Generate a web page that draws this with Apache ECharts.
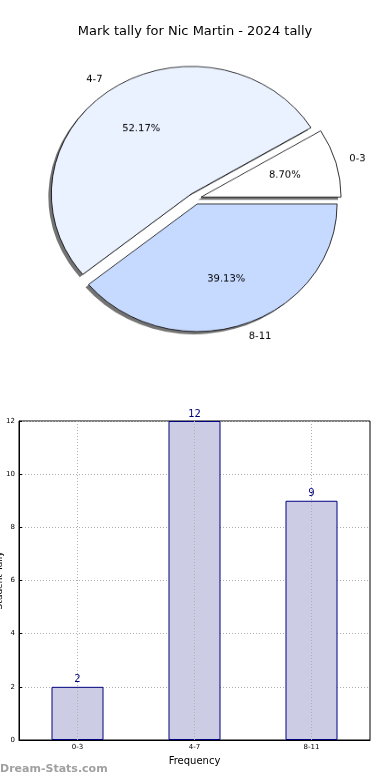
<!DOCTYPE html>
<html><head><meta charset="utf-8">
<script src="https://cdn.jsdelivr.net/npm/echarts@6/dist/echarts.min.js"></script>
<style>
html,body{margin:0;padding:0;background:#fff;}
#main{position:absolute;left:0;top:0;width:390px;height:780px;}
#pie{position:absolute;left:0;top:0;width:390px;height:420px;transform:scaleY(0.911);transform-origin:0 0;}
</style></head>
<body>
<div id="main"></div>
<div id="pie"></div>
<script>
const titleText = 'Mark tally for Nic Martin - 2024 tally';
const categories = ['0-3', '4-7', '8-11'];
const counts = [2, 12, 9];
const sliceColors = ['#ffffff', '#eaf1ff', '#c6d9ff'];
const yTicks = { min: 0, max: 12, interval: 2 };
const xName = 'Frequency';
const yName = 'Student Tally';
const watermark = 'Dream-Stats.com';

const FONT = 'DejaVu Sans';

const main = echarts.init(document.getElementById('main'), null, {renderer: 'canvas'});
main.setOption({
  animation: false,
  textStyle: {fontFamily: FONT},
  title: {text: titleText, left: 'center', top: 20, textStyle: {fontFamily: FONT, fontSize: 13, fontWeight: 'normal', color: '#000'}},
  grid: {left: 19, right: 20, top: 421, bottom: 40, show: true, borderColor: '#000', borderWidth: 1, containLabel: false, outerBoundsMode: 'none'},
  xAxis: {
    type: 'category', data: categories,
    axisLine: {lineStyle: {color: '#000'}},
    axisTick: {alignWithLabel: true, inside: true, length: 3, lineStyle: {color: '#000'}},
    axisLabel: {fontSize: 7, color: '#000', margin: 4, fontFamily: FONT},
    name: xName, nameLocation: 'middle', nameGap: 16, nameMoveOverlap: false,
    nameTextStyle: {fontSize: 10, color: '#000', fontFamily: FONT}
  },
  yAxis: {
    type: 'value', min: yTicks.min, max: yTicks.max, interval: yTicks.interval,
    axisLine: {show: true, lineStyle: {color: '#000'}},
    axisTick: {show: true, inside: true, length: 3, lineStyle: {color: '#000'}},
    axisLabel: {fontSize: 7, color: '#000', margin: 4, fontFamily: FONT},
    splitLine: {show: true, lineStyle: {color: '#b0b0b0', type: [1, 2]}},
    name: yName, nameLocation: 'middle', nameGap: 15, nameRotate: 90, nameMoveOverlap: false,
    nameTextStyle: {fontSize: 9, color: '#000', fontFamily: FONT}
  },
  series: [{
    type: 'bar', data: counts, barWidth: 52,
    itemStyle: {color: '#ccccE5', borderColor: '#000080', borderWidth: 1},
    label: {show: true, position: 'top', distance: 2, color: '#000080', fontSize: 10, fontFamily: FONT},
    markLine: {
      silent: true, symbol: 'none', label: {show: false},
      lineStyle: {color: '#b0b0b0', type: [1, 2], width: 1},
      data: categories.map(c => ({xAxis: c}))
    }
  }],
  graphic: [{
    type: 'text', left: 0, top: 764,
    style: {text: watermark, fontSize: 11, fontWeight: 'bold', fill: '#a0a0a0', fontFamily: FONT}
  }]
});

const total = counts.reduce((a, b) => a + b, 0);
const R = 140;
const OFF = 6.3;
const cx = 195, cy = 218;
const base = {type: 'pie', startAngle: 0, clockwise: false, selectedMode: 'multiple', selectedOffset: OFF,
  avoidLabelOverlap: false, emphasis: {disabled: true}, silent: true};
const pie = echarts.init(document.getElementById('pie'), null, {renderer: 'canvas'});
pie.setOption({
  animation: false,
  textStyle: {fontFamily: FONT},
  series: [Object.assign({}, base, {
    center: [cx - 3, cy + 3], radius: [0, R], z: 1,
    data: categories.map((c, i) => ({name: c, value: counts[i], selected: true})),
    itemStyle: {color: 'rgba(70,70,70,0.75)', borderWidth: 0},
    label: {show: false}, labelLine: {show: false}
  }), Object.assign({}, base, {
    center: [cx, cy], radius: [0, R], z: 2,
    data: categories.map((c, i) => ({name: c, value: counts[i], selected: true,
      itemStyle: {color: sliceColors[i]}})),
    itemStyle: {borderColor: '#000', borderWidth: 0.8},
    label: {show: true, position: 'outside', formatter: '{b}', fontSize: 10, color: '#000', fontFamily: FONT, distanceToLabelLine: 0},
    labelLine: {show: false, length: 14, length2: 0}
  }), Object.assign({}, base, {
    center: [cx, cy], radius: [0, R * 1.2], z: 3,
    percentPrecision: 2,
    data: categories.map((c, i) => ({name: c, value: counts[i], selected: true})),
    itemStyle: {color: 'rgba(0,0,0,0)', borderWidth: 0},
    label: {show: true, position: 'inside', fontSize: 10, color: '#000', fontFamily: FONT,
      formatter: p => (p.value / total * 100).toFixed(2) + '%'},
    labelLine: {show: false}
  })]
});
</script>
</body></html>
